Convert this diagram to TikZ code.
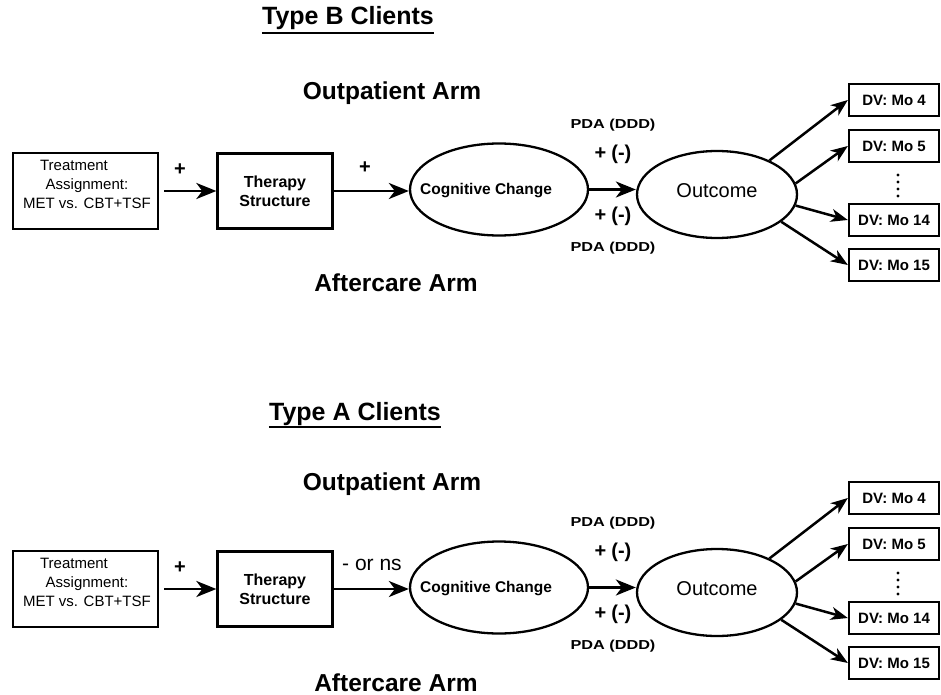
\documentclass[tikz,border=0pt]{standalone}
\usepackage{fontspec}
\setmainfont{Liberation Sans}
\newfontfamily\widefont[FakeStretch=1.25]{Liberation Sans}
\usetikzlibrary{arrows.meta,shapes.geometric}
\tikzset{
  box/.style={draw, line width=2.3pt, rectangle, inner sep=0pt},
  oval/.style={draw, line width=2.3pt, ellipse, inner sep=0pt},
  txt/.style={inner sep=0pt, align=center},
  conn/.style={line width=2.7pt, -{Stealth[length=20pt,width=16pt,inset=6pt]}},
  dvconn/.style={line width=2.5pt, -{Stealth[length=17pt,width=13pt,inset=5pt]}},
  dvbox/.style={box, minimum width=90pt, minimum height=32pt, font=\bfseries\fontsize{15}{18}\selectfont},
  bigtitle/.style={inner sep=0pt, font=\bfseries\fontsize{25}{30}\selectfont},
  armtext/.style={inner sep=0pt, font=\bfseries\fontsize{24.5}{30}\selectfont},
  pda/.style={txt, font=\widefont\bfseries\fontsize{13}{16}\selectfont},
  pm/.style={txt, font=\bfseries\fontsize{20}{24}\selectfont},
}
\newcommand\drawpanel[3]{%
\begin{scope}[yshift=#2]
  \node[box, minimum width=145pt, minimum height=76pt] (#1treat) at (85.5,191) {};
  \node[txt, font=\fontsize{15}{19}\selectfont] (#1treattxt) at (87,184)
     {Treatment\hspace*{26pt}\\Assignment:\hspace*{26pt}\\MET vs. CBT+TSF};
  \node[box, minimum width=115pt, minimum height=75pt, align=center,
        font=\bfseries\fontsize{16}{19}\selectfont] (#1therapy) at (275,191)
     {Therapy\\Structure};
  \node[oval, minimum width=178pt, minimum height=92pt] (#1cog) at (499,189.5) {};
  \node[txt, font=\bfseries\fontsize{15.5}{18}\selectfont] (#1cogtxt) at (486,191) {Cognitive Change};
  \node[oval, minimum width=160pt, minimum height=87pt] (#1out) at (717,194.5) {};
  \node[txt, font=\fontsize{20}{24}\selectfont] (#1outtxt) at (717,191) {Outcome};
  \node[pm] (#1plusA) at (180,170) {+};
  #3
  \node[pda] (#1pdaU) at (613,125) {PDA (DDD)};
  \node[pm] (#1pmU) at (613,154) {+\hspace{5pt}(-)};
  \node[pm] (#1pmL) at (613,216) {+\hspace{5pt}(-)};
  \node[pda] (#1pdaL) at (613,248) {PDA (DDD)};
  \node[dvbox] (#1dv4) at (894,100) {DV: Mo 4};
  \node[dvbox] (#1dv5) at (894,146) {DV: Mo 5};
  \node[dvbox] (#1dv14) at (894,220) {DV: Mo 14};
  \node[dvbox] (#1dv15) at (894,265) {DV: Mo 15};
  \foreach \yy in {175,182,189,196} \fill (898,\yy) circle (1.6pt);
  \draw[conn, shorten <=5pt] (#1treat.east) -- (#1therapy.west);
  \draw[conn] (#1therapy.east) -- (#1therapy.east -| #1cog.west);
  \draw[conn] (#1cog.east) -- (#1cog.east -| #1out.west);
  \draw[dvconn] (#1out.33) -- (#1dv4.west);
  \draw[dvconn] (#1out.8) -- (#1dv5.west);
  \draw[dvconn] (#1out.-8) -- (#1dv14.west);
  \draw[dvconn] (#1out.-23) -- (#1dv15.west);
\end{scope}}

\begin{document}
\begin{tikzpicture}[x=1pt, y=-1pt]
  \useasboundingbox (0,0) rectangle (941,695);
  \fill[white] (0,0) rectangle (941,695);
  % titles
  \node[bigtitle, anchor=base] (titleB) at (348,25) {Type B Clients};
  \draw[line width=2.4pt] ([yshift=-8pt]titleB.base west) -- ([yshift=-8pt]titleB.base east);
  \node[armtext, anchor=base] (outB) at (392,100) {Outpatient Arm};
  \node[armtext, anchor=base] (aftB) at (396,291) {Aftercare Arm};
  \node[bigtitle, anchor=base] (titleA) at (355,420) {Type A Clients};
  \draw[line width=2.4pt] ([yshift=-7pt]titleA.base west) -- ([yshift=-7pt]titleA.base east);
  \node[armtext, anchor=base] (outA) at (392,490) {Outpatient Arm};
  \node[armtext, anchor=base] (aftA) at (396,691) {Aftercare Arm};
  % panels
  \drawpanel{b}{0pt}{\node[pm] (bplusB) at (365,168) {+};}
  \drawpanel{a}{-398pt}{\node[txt, font=\fontsize{21}{24}\selectfont] (aplusB) at (372,167) {- or ns};}
\end{tikzpicture}
\end{document}
